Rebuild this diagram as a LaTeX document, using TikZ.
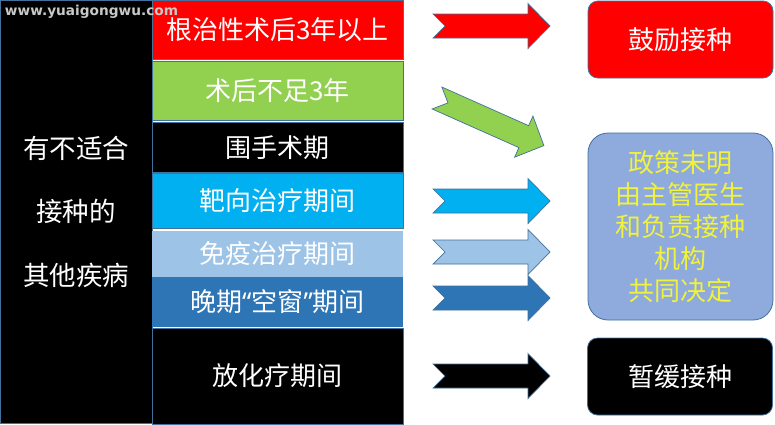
\documentclass[tikz,border=0pt]{standalone}
\usepackage{fontspec}
\usepackage{graphicx}
\setmainfont{Noto Sans CJK SC}
\newfontfamily\wmfont{DejaVu Sans}
\newfontfamily\latinfont{Noto Sans}
\definecolor{bordc}{HTML}{41719C}
\definecolor{cred}{HTML}{FF0000}
\definecolor{cgreen}{HTML}{92D050}
\definecolor{ccyan}{HTML}{00B0F0}
\definecolor{clight}{HTML}{9DC3E6}
\definecolor{cblue}{HTML}{2E75B6}
\definecolor{cperi}{HTML}{8FAADC}
\definecolor{cyel}{RGB}{240,242,60}
\definecolor{wmgray}{RGB}{200,200,200}
\tikzset{
  cjk/.style={font=\fontsize{26}{31}\selectfont},
  colbox/.style={draw=bordc, line width=0.6pt, minimum width=251pt, inner sep=0pt, text=white, cjk},
  resbox/.style={draw=bordc, line width=0.8pt, rounded corners=10pt, minimum width=185pt, inner sep=0pt, cjk},
  arrowshape/.style={draw=bordc, line width=0.7pt},
}
\newcommand{\notcharrow}[4]{% color, tail-x, tail-y, rotation
  \begin{scope}[shift={(#2,#3)}, rotate=#4]
    \filldraw[arrowshape, fill=#1] (0,-12) -- (95,-12) -- (95,-22.5) -- (117,0) -- (95,22.5) -- (95,12) -- (0,12) -- (12,0) -- cycle;
  \end{scope}}
\begin{document}
\begin{tikzpicture}[x=1pt,y=-1pt]
\useasboundingbox (0,0) rectangle (775,424);
\fill[white] (0,0) rectangle (775,424);
% left column
\node[draw=bordc, line width=0.8pt, fill=black, minimum width=152pt, minimum height=423pt, inner sep=0pt] (left) at (76,212) {};
\node[text=white, align=center, font=\fontsize{26.5}{63.5}\selectfont] (lefttext) at (76,211.5) {有不适合\\接种的\\其他疾病};
% middle column
\node[colbox, fill=cred, minimum height=59pt] (c1) at (277.5,29.5) {根治性术后3年以上};
\node[colbox, fill=cgreen, minimum height=59pt] (c2) at (277.5,90.5) {术后不足3年};
\node[colbox, fill=black, minimum height=50pt] (c3) at (277.5,147.5) {围手术期};
\node[colbox, fill=ccyan, minimum height=55pt] (c4) at (277.5,200.5) {靶向治疗期间};
\node[colbox, fill=clight, minimum height=47pt, draw=none] (c5) at (277.5,254) {免疫治疗期间};
\node[colbox, fill=cblue, minimum height=50pt, draw=none] (c6) at (277.5,302) {晚期{\latinfont“}空窗{\latinfont”}期间};
\node[colbox, fill=black, minimum height=96pt] (c7) at (277.5,376) {放化疗期间};
% arrows
\notcharrow{cred}{433}{26}{0}
\notcharrow{cgreen}{437}{98}{-24}
\notcharrow{ccyan}{433}{201}{0}
\notcharrow{clight}{433}{252}{0}
\notcharrow{cblue}{433}{298}{0}
\notcharrow{black}{433}{376}{0}
% result boxes
\node[resbox, fill=cred, text=white, minimum height=77pt] (r1) at (680.5,39.5) {鼓励接种};
\node[resbox, fill=cperi, text=cyel, rounded corners=20pt, minimum height=187pt, align=center, font=\fontsize{26}{32}\selectfont] (r2) at (680.5,226.5) {政策未明\\由主管医生\\和负责接种\\机构\\共同决定};
\node[resbox, fill=black, text=white, minimum height=77pt] (r3) at (680,376.5) {暂缓接种};
% watermark
\node[text=wmgray, inner sep=0pt] (wm) at (91.5,12) {\resizebox{173pt}{!}{\wmfont\bfseries www.yuaigongwu.com}};
\end{tikzpicture}
\end{document}
